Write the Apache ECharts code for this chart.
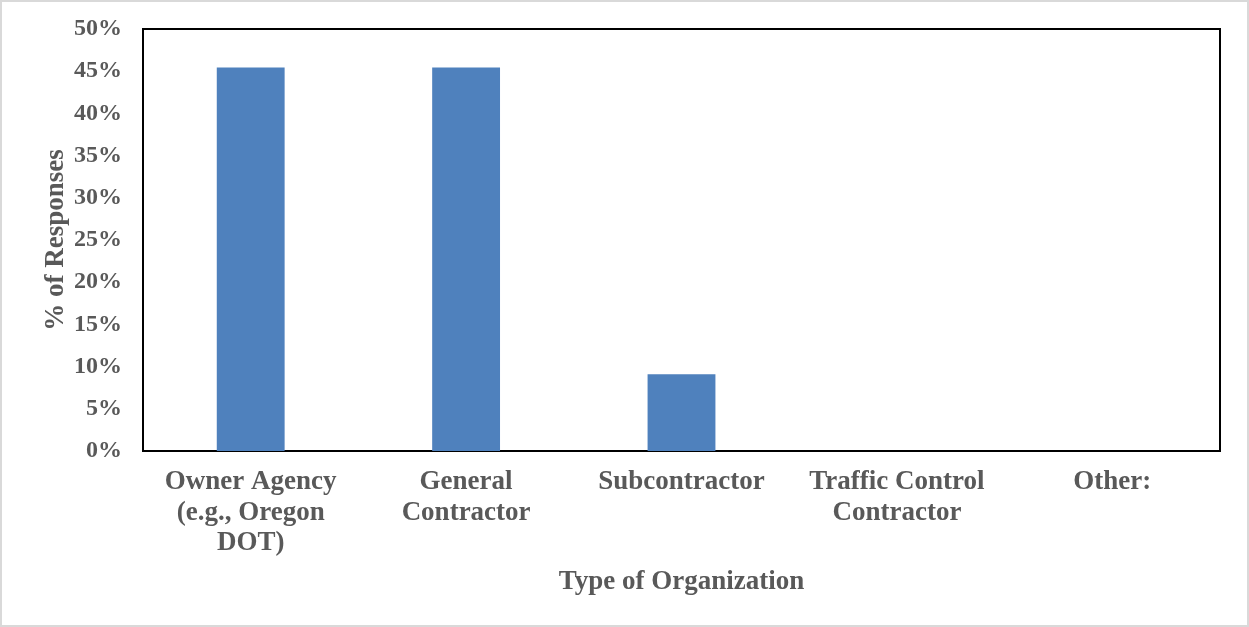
<!DOCTYPE html>
<html>
<head>
<meta charset="utf-8">
<script src="https://cdn.jsdelivr.net/npm/echarts@6/dist/echarts.min.js"></script>
<style>
  html, body { margin: 0; padding: 0; background: #fff; }
  #chart { width: 1249px; height: 627px; box-sizing: border-box; border: 2px solid #d9d9d9; }
</style>
</head>
<body>
<div id="chart"></div>
<script>
const categories = [
  'Owner Agency\n(e.g., Oregon\nDOT)',
  'General\nContractor',
  'Subcontractor',
  'Traffic Control\nContractor',
  'Other:'
]
const responseShare = [0.4545, 0.4545, 0.0909, 0, 0]

const textColor = '#595959'
const fontFamily = '"Liberation Serif", "Times New Roman", serif'

const chart = echarts.init(document.getElementById('chart'))

const option = {
  animation: false,
  textStyle: { fontFamily: fontFamily },
  grid: {
    left: 141,
    top: 27,
    right: 27,
    bottom: 174,
    show: true,
    borderColor: '#000',
    borderWidth: 2
  },
  xAxis: {
    type: 'category',
    data: categories,
    name: 'Type of Organization',
    nameLocation: 'middle',
    nameGap: 118,
    nameMoveOverlap: false,
    nameTextStyle: { color: textColor, fontSize: 27, fontWeight: 'bold', fontFamily: fontFamily },
    axisLine: { show: true, lineStyle: { color: '#000', width: 2 } },
    axisTick: { show: false },
    axisLabel: {
      interval: 0,
      margin: 16,
      color: textColor,
      fontSize: 27,
      fontWeight: 'bold',
      lineHeight: 30.5,
      fontFamily: fontFamily
    }
  },
  yAxis: {
    type: 'value',
    min: 0,
    max: 0.5,
    interval: 0.05,
    name: '% of Responses',
    nameLocation: 'middle',
    nameGap: 73,
    nameMoveOverlap: false,
    nameTextStyle: { color: textColor, fontSize: 27, fontWeight: 'bold', fontFamily: fontFamily },
    axisLine: { show: false },
    axisTick: { show: false },
    splitLine: { show: false },
    axisLabel: {
      margin: 21,
      color: textColor,
      fontSize: 24,
      fontWeight: 'bold',
      fontFamily: fontFamily,
      formatter: (v) => Math.round(v * 100) + '%'
    }
  },
  series: [
    {
      type: 'bar',
      data: responseShare,
      barWidth: '31.5%',
      itemStyle: { color: '#4F81BD' }
    }
  ]
}

chart.setOption(option)
</script>
</body>
</html>
